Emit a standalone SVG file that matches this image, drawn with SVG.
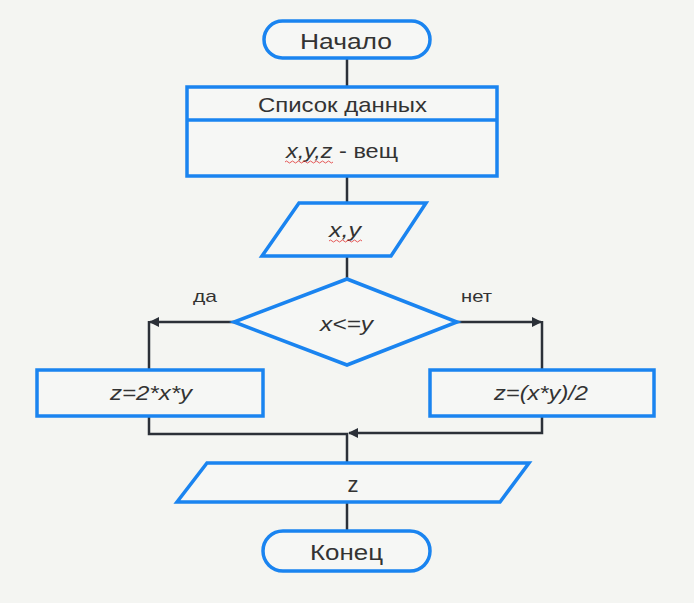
<svg xmlns="http://www.w3.org/2000/svg" width="694" height="603" viewBox="0 0 694 603">
<defs>
<style>
.shape{fill:#f6f7f5;stroke:#1a84f0;stroke-width:3.5}
.ln{fill:none;stroke:#2b3038;stroke-width:2.5}
.t{font-family:"Liberation Sans",Arial,sans-serif;fill:#333;text-anchor:middle}
.i{font-style:italic}
.sq{fill:none;stroke:#e03030;stroke-width:0.8}
</style>
<marker id="ah" viewBox="0 0 10 10" refX="9" refY="5" markerWidth="4" markerHeight="4" orient="auto"><path d="M0,0 L10,5 L0,10 z" fill="#2b3038"/></marker>
</defs>
<rect width="694" height="603" fill="#f4f5f2"/>
<g id="connectors">
<line class="ln" x1="347" y1="58" x2="347" y2="87"/>
<line class="ln" x1="347" y1="177" x2="347" y2="203"/>
<line class="ln" x1="347" y1="256" x2="347" y2="279"/>
<path class="ln" d="M234,322 H150" marker-end="url(#ah)"/>
<line class="ln" x1="149" y1="321" x2="149" y2="369"/>
<path class="ln" d="M457,322 H541" marker-end="url(#ah)"/>
<line class="ln" x1="542" y1="321" x2="542" y2="369"/>
<path class="ln" d="M149,416 V434 H348"/>
<path class="ln" d="M542,416 V433 H349" marker-end="url(#ah)"/>
<line class="ln" x1="347" y1="433" x2="347" y2="463"/>
<line class="ln" x1="347" y1="502" x2="347" y2="531"/>
</g>
<g id="start">
<rect class="shape" x="264" y="21" width="166" height="37" rx="18.5"/>
<text class="t" x="346" y="49" font-size="22" textLength="92" lengthAdjust="spacingAndGlyphs">Начало</text>
</g>
<g id="data">
<rect class="shape" x="187" y="87" width="310" height="89"/>
<line class="shape" x1="187" y1="120" x2="497" y2="120"/>
<text class="t" x="342.5" y="112" font-size="21" textLength="169" lengthAdjust="spacingAndGlyphs">Список данных</text>
<text class="t" x="342" y="158" font-size="21" textLength="112" lengthAdjust="spacingAndGlyphs"><tspan class="i">x,y,z</tspan> - вещ</text>
<path class="sq" d="M285,162 q1.5,-2 3,0 t3,0 t3,0 t3,0 t3,0 t3,0 t3,0 t3,0 t3,0 t3,0 t3,0 t3,0 t3,0 t3,0 t3,0 t3,0"/>
</g>
<g id="input">
<polygon class="shape" points="299,203 426,203 391,256 262,256"/>
<text class="t i" x="345" y="237" font-size="21" textLength="32" lengthAdjust="spacingAndGlyphs">x,y</text>
<path class="sq" d="M329,241 q1.5,-2 3,0 t3,0 t3,0 t3,0 t3,0 t3,0 t3,0 t3,0 t3,0 t3,0 t3,0"/>
</g>
<g id="decision">
<polygon class="shape" points="347,279 457,322 347,365 234,322"/>
<text class="t i" x="346.5" y="331" font-size="21" textLength="53" lengthAdjust="spacingAndGlyphs">x&lt;=y</text>
</g>
<text class="t" x="205" y="302" font-size="17" textLength="24" lengthAdjust="spacingAndGlyphs">да</text>
<text class="t" x="476.5" y="302" font-size="17" textLength="31" lengthAdjust="spacingAndGlyphs">нет</text>
<g id="yes">
<rect class="shape" x="37" y="370" width="226" height="46"/>
<text class="t i" x="151" y="400" font-size="21" textLength="82" lengthAdjust="spacingAndGlyphs">z=2*x*y</text>
</g>
<g id="no">
<rect class="shape" x="430" y="370" width="224" height="46"/>
<text class="t i" x="541" y="400" font-size="21" textLength="94" lengthAdjust="spacingAndGlyphs">z=(x*y)/2</text>
</g>
<g id="output">
<polygon class="shape" points="207,463 529,463 500,502 177,502"/>
<text class="t" x="353" y="492" font-size="22">z</text>
</g>
<g id="end">
<rect class="shape" x="263" y="531" width="167" height="40" rx="20"/>
<text class="t" x="346.5" y="560" font-size="22" textLength="73" lengthAdjust="spacingAndGlyphs">Конец</text>
</g>
</svg>
